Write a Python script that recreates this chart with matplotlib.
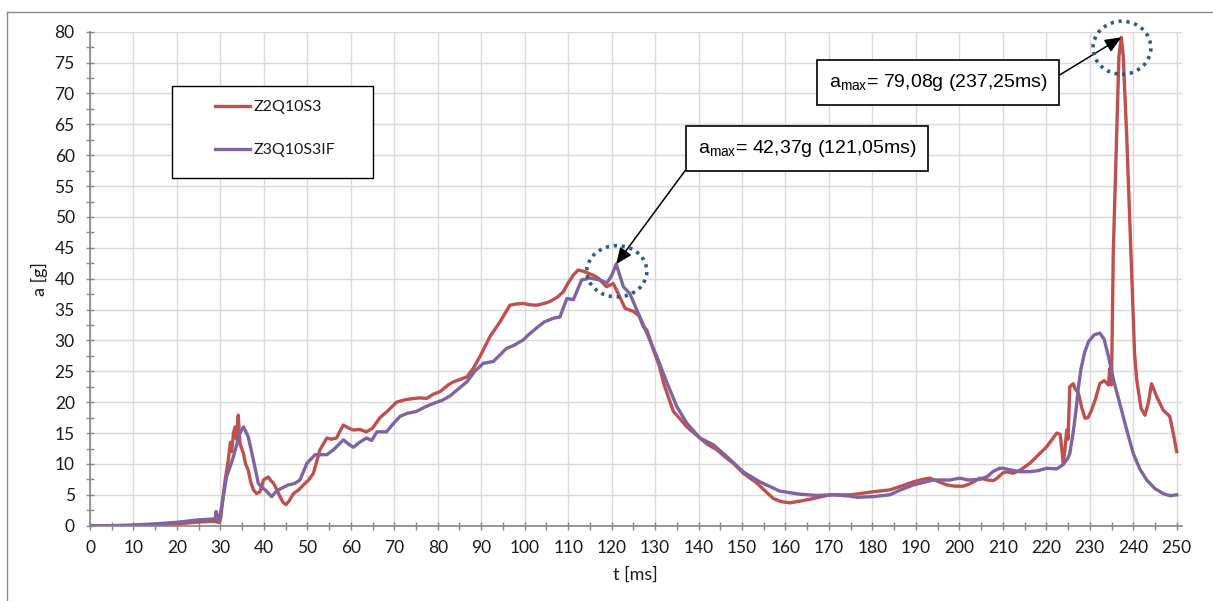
import matplotlib
matplotlib.use("Agg")
import matplotlib.pyplot as plt
from matplotlib.patches import Ellipse, Rectangle
from matplotlib.lines import Line2D
from matplotlib.ticker import MultipleLocator

# acceleration traces, t [ms] / a [g]
t_z2 = [0, 5, 10, 15, 20, 25, 28, 29.1, 29.6, 30.0, 30.5, 31.1, 31.8, 32.3, 32.6,
        33.0, 33.4, 33.7, 34.1, 34.5, 35.3, 35.8, 36.4, 37.0, 37.6, 38.3, 39.1,
        39.5, 39.9, 41.0, 41.6, 42.2, 43.0, 43.7, 44.4, 45.1, 45.8, 46.8, 48.0,
        49.1, 50.3, 51.4, 52.2, 52.9, 54.5, 55.5, 56.7, 57.5, 58.3, 59.5, 60.6,
        62.0, 63.6, 65.0, 66.7, 68.5, 70.5, 72.5, 74.4, 76.0, 77.4, 79.0, 80.5,
        82.4, 83.6, 86.7, 88.2, 89.7, 92.0, 94.3, 96.6, 98.0, 99.7, 101.0, 102.7,
        104.5, 105.8, 107.5, 108.9, 110.0, 111.2, 112.3, 113.5, 114.6, 116.0,
        116.9, 118.8, 120.4, 121.5, 123.1, 125.0, 126.3, 127.3, 128.1, 129.6,
        131.0, 132.0, 134.2, 135.5, 137.3, 140.3, 142.0, 144.2, 146.0, 148.0,
        150.3, 153.4, 155.5, 157.2, 159.0, 161.0, 163.5, 166.4, 170.2, 175.0,
        180.2, 184.0, 187.0, 189.4, 191.5, 193.2, 195.0, 197.1, 199.0, 200.9,
        202.5, 204.7, 206.5, 207.8, 208.5, 210.1, 211.0, 212.4, 214.0, 216.2,
        217.8, 220.1, 222.4, 223.2, 223.9, 224.3, 224.7, 225.0, 225.4, 226.2,
        226.6, 227.4, 228.2, 228.9, 229.6, 230.4, 231.3, 232.3, 233.3, 234.3,
        234.6, 235.0, 235.4, 236.2, 236.7, 237.25, 237.7, 238.5, 239.6, 240.3,
        240.8, 241.8, 242.7, 243.5, 244.2, 245.4, 246.9, 248.4, 249.2, 250.0]
a_z2 = [0.0, 0.0, 0.05, 0.15, 0.3, 0.6, 0.7, 0.65, 0.5, 0.9, 4.0, 7.4, 10.6, 13.5, 12.0,
        15.0, 16.0, 14.0, 17.9, 13.3, 11.7, 10.0, 9.0, 7.0, 5.8, 5.2, 5.5,
        6.3, 7.4, 7.9, 7.3, 6.9, 5.8, 4.7, 3.8, 3.4, 4.0, 5.2, 5.8,
        6.6, 7.4, 8.5, 10.5, 12.3, 14.2, 14.0, 14.2, 15.3, 16.3, 15.8, 15.5,
        15.6, 15.2, 15.8, 17.5, 18.6, 20.0, 20.4, 20.6, 20.7, 20.6, 21.3, 21.7,
        22.8, 23.3, 24.1, 25.5, 27.4, 30.6, 33.0, 35.7, 35.9, 36.0, 35.8, 35.7,
        36.0, 36.3, 37.0, 37.9, 39.3, 40.6, 41.4, 41.2, 40.9, 40.5,
        40.1, 38.7, 39.2, 37.6, 35.2, 34.7, 34.0, 32.2, 31.7, 28.5,
        25.8, 23.0, 18.5, 17.5, 16.0, 14.2, 13.2, 12.3, 11.2, 10.1,
        8.5, 6.9, 5.5, 4.4, 3.9, 3.7, 4.0, 4.4, 5.0, 5.0,
        5.5, 5.8, 6.5, 7.1, 7.5, 7.7, 7.2, 6.6, 6.4, 6.4,
        6.8, 7.7, 7.4, 7.3, 7.6, 8.6, 8.7, 8.5, 9.0, 10.1,
        11.2, 12.8, 15.0, 14.8, 10.1, 12.5, 15.5, 14.0, 22.5, 23.0,
        22.2, 21.4, 19.0, 17.4, 17.5, 18.7, 20.5, 23.0, 23.5, 22.8,
        25.5, 22.8, 44.1, 63.5, 76.0, 79.08, 76.0, 63.0, 41.4, 28.0,
        23.6, 19.0, 17.9, 20.0, 23.0, 20.9, 18.7, 17.7, 15.0, 12.0]

t_z3 = [0, 5, 10, 15, 20, 25, 28.8, 29.0, 29.3, 29.6, 30.3, 31.4, 32.2, 33.0, 34.5,
        35.3, 35.8, 36.4, 37.0, 37.6, 38.7, 39.5, 40.3, 41.8, 42.5, 43.3, 45.6,
        47.0, 48.3, 49.9, 51.8, 54.5, 56.0, 58.3, 59.5, 60.6, 62.0, 63.6, 64.8,
        66.0, 68.2, 69.5, 71.3, 73.0, 75.1, 77.0, 79.0, 81.0, 82.8, 84.5, 86.7,
        88.5, 90.5, 92.8, 94.5, 95.8, 97.5, 99.7, 101.0, 102.7, 104.5, 106.6,
        108.1, 109.7, 111.2, 113.1, 115.0, 117.3, 118.9, 120.0, 121.05, 122.7,
        123.8, 124.2, 125.8, 128.1, 130.4, 132.7, 135.0, 137.3, 140.3, 143.4,
        146.5, 150.3, 154.1, 158.7, 163.3, 167.2, 171.0, 174.8, 176.4, 180.0,
        184.0, 186.5, 189.4, 194.0, 197.8, 200.1, 202.0, 204.7, 206.5, 207.8,
        209.3, 210.1, 212.0, 213.9, 216.2, 218.0, 220.1, 222.4, 223.9, 225.0,
        225.4, 226.2, 226.8, 227.4, 228.0, 228.8, 229.7, 231.0, 232.3, 233.3,
        234.3, 235.5, 236.9, 238.5, 240.0, 241.5, 243.1, 245.0, 246.9, 248.5, 250.0]
a_z3 = [0.0, 0.0, 0.1, 0.3, 0.55, 0.95, 1.1, 2.3, 1.2, 0.7, 3.1, 7.9, 9.5, 11.2, 15.0,
        16.0, 15.3, 14.4, 12.5, 10.6, 6.9, 6.2, 5.8, 4.7, 5.3, 5.8, 6.6,
        6.8, 7.4, 10.1, 11.5, 11.5, 12.3, 13.9, 13.2, 12.7, 13.5, 14.2, 13.8,
        15.2, 15.2, 16.3, 17.7, 18.2, 18.5, 19.2, 19.8, 20.3, 21.0, 22.0, 23.3,
        25.0, 26.3, 26.6, 27.8, 28.7, 29.2, 30.1, 31.0, 32.0, 33.0, 33.6,
        33.8, 36.8, 36.6, 39.8, 40.1, 39.8, 39.3, 40.5, 42.37, 38.7,
        37.9, 37.6, 34.9, 31.2, 27.4, 23.2, 19.3, 16.6, 14.2, 13.1,
        11.2, 8.7, 7.1, 5.6, 5.1, 4.9, 5.0, 4.8, 4.6, 4.7,
        5.0, 5.8, 6.6, 7.4, 7.4, 7.7, 7.4, 7.5, 8.0, 8.8,
        9.3, 9.3, 9.0, 8.75, 8.75, 8.9, 9.3, 9.2, 9.9, 11.0,
        11.7, 15.2, 18.5, 22.5, 25.5, 28.0, 29.8, 30.9, 31.2, 30.2,
        27.4, 23.5, 19.8, 15.5, 11.7, 9.2, 7.4, 6.0, 5.2, 4.85, 5.0]

labels = ["Z2Q10S3", "Z3Q10S3IF"]
peaks = [(121.05, 42.37), (237.25, 79.08)]
peak_texts = [r"$\mathrm{a_{max}}$= 42,37g (121,05ms)",
              r"$\mathrm{a_{max}}$= 79,08g (237,25ms)"]

plt.rcParams["font.family"] = ["Lato", "DejaVu Sans"]
plt.rcParams["mathtext.fontset"] = "custom"
plt.rcParams["mathtext.rm"] = "Liberation Sans"

W, H = 1213, 601
fig = plt.figure(figsize=(W / 100, H / 100), dpi=100)


def fx(px):
    return px / W


def fy(py):
    return 1 - py / H


# outer chart frame (only left and top edges fall inside the image)
fig.add_artist(Line2D([fx(6.5), fx(6.5)], [fy(11.5), 0], color="#8c8c8c", lw=1.0))
fig.add_artist(Line2D([fx(6.5), 1], [fy(11.5), fy(11.5)], color="#8c8c8c", lw=1.0))

ax = fig.add_axes([fx(90), fy(525.7), fx(1181.5) - fx(90), fy(31.7) - fy(525.7)])

red, purple = "#C0504D", "#8064A2"
ax.plot(t_z2, a_z2, color=red, lw=2.4, label=labels[0], solid_joinstyle="round")
ax.plot(t_z3, a_z3, color=purple, lw=2.4, label=labels[1], solid_joinstyle="round")

ax.set_xlim(0, 251.1)
ax.set_ylim(0, 80)
ax.xaxis.set_major_locator(MultipleLocator(10))
ax.xaxis.set_minor_locator(MultipleLocator(5))
ax.yaxis.set_major_locator(MultipleLocator(5))
ax.yaxis.set_minor_locator(MultipleLocator(2.5))
ax.grid(True, which="major", color="#d9d9d9", lw=1.0)
ax.set_axisbelow(True)

for s in ["top", "right"]:
    ax.spines[s].set_visible(False)
for s in ["left", "bottom"]:
    ax.spines[s].set_color("#868686")
    ax.spines[s].set_linewidth(1.2)
ax.tick_params(which="both", direction="inout", length=6, width=1.0, color="#868686",
               labelsize=12.5, labelcolor="#1a1a1a")
ax.tick_params(axis="x", pad=7)
ax.tick_params(axis="y", pad=8)

ax.set_xlabel("t [ms]", fontsize=13, color="#1a1a1a", labelpad=8)
ax.set_ylabel("a [g]", fontsize=13, color="#1a1a1a", labelpad=5)

# legend: frameless entries inside a drawn box
fig.add_artist(Rectangle((fx(172), fy(178)), fx(373) - fx(172), fy(86) - fy(178),
                         transform=fig.transFigure, fill=True, facecolor="white",
                         edgecolor="black", lw=1.0))
fig.legend(loc="upper left", bbox_to_anchor=(fx(215), fy(100)), frameon=False,
           borderpad=0, borderaxespad=0, handlelength=2.2, handletextpad=0.2,
           labelspacing=1.8, fontsize=11.5, labelcolor="#1a1a1a")

# peak annotations: text start (t, a) inside the boxes
boxes = [(139.9, 61.1, (0, 0.28)), (170.0, 71.8, (1, 0.5))]
for (tp, ap), txt, (bx, by, rp) in zip(peaks, peak_texts, boxes):
    ax.annotate(txt, xy=(tp, ap), xytext=(bx, by), textcoords="data",
                ha="left", va="center", fontsize=14, family="Liberation Sans",
                bbox=dict(boxstyle="square,pad=0.6", fc="white", ec="black", lw=1.2),
                arrowprops=dict(arrowstyle="-|>,head_length=0.7,head_width=0.3",
                                color="black", lw=1.1, shrinkA=0, shrinkB=0,
                                relpos=rp),
                annotation_clip=False)

circles = [(121.2, 41.2, 13.8, 8.3), (237.4, 77.4, 13.3, 8.6)]
for cx, cy, w, h in circles:
    ax.add_patch(Ellipse((cx, cy), w, h, fill=False, edgecolor="#2E5C8C", lw=2.6,
                         linestyle=(0, (0.9, 1.3)), clip_on=False, zorder=5))

fig.savefig("out.png", dpi=100)
